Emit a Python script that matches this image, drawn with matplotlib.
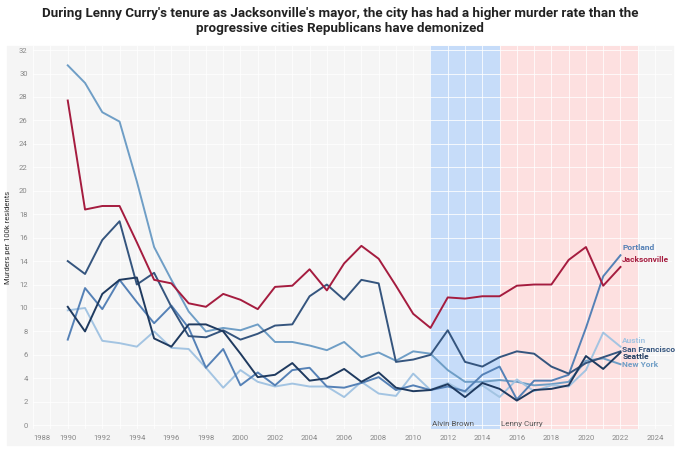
import numpy as np
import matplotlib.pyplot as plt
from matplotlib.patches import Rectangle

years = list(range(1990, 2023))

jacksonville = [27.7, 18.4, 18.7, 18.7, 15.6, 12.4, 12.1, 10.4, 10.1, 11.2, 10.7,
                9.9, 11.8, 11.9, 13.3, 11.5, 13.8, 15.3, 14.2, 11.9, 9.5,
                8.3, 10.9, 10.8, 11.0, 11.0, 11.9, 12.0, 12.0, 14.1, 15.2, 11.9, 13.5]
new_york = [30.7, 29.2, 26.7, 25.9, 20.8, 15.2, 12.4, 9.7, 8.0, 8.3, 8.1,
            8.6, 7.1, 7.1, 6.8, 6.4, 7.1, 5.8, 6.2, 5.5, 6.3,
            6.1, 4.7, 3.7, 3.7, 3.85, 3.7, 3.4, 3.5, 3.7, 5.5, 5.7, 5.2]
san_francisco = [14.0, 12.9, 15.8, 17.4, 12.0, 13.0, 10.1, 7.6, 7.5, 8.1, 7.3,
                 7.8, 8.5, 8.6, 11.0, 12.0, 10.7, 12.4, 12.1, 5.4, 5.6,
                 6.0, 8.1, 5.4, 5.0, 5.8, 6.3, 6.1, 5.0, 4.4, 5.3, 5.8, 6.3]
seattle = [10.1, 8.0, 11.2, 12.4, 12.6, 7.4, 6.7, 8.6, 8.6, 8.0, 6.1,
           4.1, 4.3, 5.3, 3.8, 4.0, 4.8, 3.7, 4.5, 3.2, 2.9,
           3.0, 3.5, 2.4, 3.6, 3.1, 2.1, 3.0, 3.1, 3.4, 5.9, 4.8, 6.2]
portland = [7.3, 11.7, 9.9, 12.4, 10.5, 8.7, 10.2, 8.3, 4.9, 6.5, 3.4,
            4.5, 3.4, 4.7, 4.9, 3.3, 3.2, 3.6, 4.1, 3.0, 3.4,
            3.0, 3.3, 2.9, 4.3, 5.0, 2.2, 3.8, 3.8, 4.3, 8.3, 12.7, 14.5]
austin = [9.8, 10.0, 7.2, 7.0, 6.7, 8.0, 6.6, 6.5, 4.9, 3.2, 4.7,
          3.7, 3.3, 3.55, 3.3, 3.3, 2.4, 3.7, 2.7, 2.5, 4.4,
          3.0, 3.6, 2.8, 3.4, 2.4, 3.9, 2.9, 3.4, 3.3, 4.7, 7.9, 6.7]

series = [
    ("New York", new_york, "#6f9ec6", 5.2),
    ("Austin", austin, "#a3c4e2", 7.2),
    ("Portland", portland, "#5581b6", 15.2),
    ("San Francisco", san_francisco, "#35557e", 6.5),
    ("Seattle", seattle, "#1f3a5f", 5.85),
    ("Jacksonville", jacksonville, "#a51c3f", 14.1),
]

title = ("During Lenny Curry's tenure as Jacksonville's mayor, the city has had a higher murder rate than the\n"
         "progressive cities Republicans have demonized")

fig = plt.figure(figsize=(6.8, 4.53), dpi=100)
panel = Rectangle((7 / 680, 8 / 453), 666 / 680, 399 / 453,
                  transform=fig.transFigure, color='#f5f5f5', zorder=-1)
fig.patches.append(panel)
ax = fig.add_axes([33.2 / 680, 23.7 / 453, 639.1 / 680, 383.3 / 453])
ax.set_facecolor('#f5f5f5')
ax.set_xlim(1988, 2025)
ax.set_ylim(-0.35, 32.35)

ax.axvspan(2011, 2015, color='#c6dcf9', zorder=0.2, lw=0)
ax.axvspan(2015, 2023, color='#fde0e0', zorder=0.2, lw=0)
ax.text(2011.1, 0.1, "Alvin Brown", fontsize=5.8, color='#555555', va='center', family='Roboto')
ax.text(2015.1, 0.1, "Lenny Curry", fontsize=5.8, color='#555555', va='center', family='Roboto')

for name, vals, color, label_y in series:
    ax.plot(years, vals, color=color, lw=1.4, zorder=3 if name == "Jacksonville" else 2)
    ax.text(2022.1, label_y, name, color=color, fontsize=6, fontweight='bold',
            va='center', ha='left', family='Roboto')

ax.set_xticks(range(1988, 2025, 2))
ax.set_xticks(range(1988, 2026), minor=True)
ax.set_yticks(range(0, 33, 2))
ax.set_axisbelow(True)
ax.grid(True, which='both', axis='x', color='white', lw=0.7, alpha=0.8)
ax.grid(True, which='major', axis='y', color='white', lw=0.7, alpha=0.8)
ax.tick_params(which='both', length=0, labelsize=5.5, labelcolor='#888888', pad=4)
for lab in ax.get_xticklabels() + ax.get_yticklabels():
    lab.set_family('Roboto')
ax.get_xticklabels()[0].set_ha('left')
for s in ax.spines.values():
    s.set_visible(False)

ax.set_ylabel("Murders per 100k residents", fontsize=5.5, color='#333333', labelpad=6, family='Roboto')

fig.suptitle(title, x=0.5, y=0.985, fontsize=9.6, fontweight='bold', color='#222222',
             family='Roboto', linespacing=1.2)

fig.savefig("out.png", dpi=100, facecolor='white')
